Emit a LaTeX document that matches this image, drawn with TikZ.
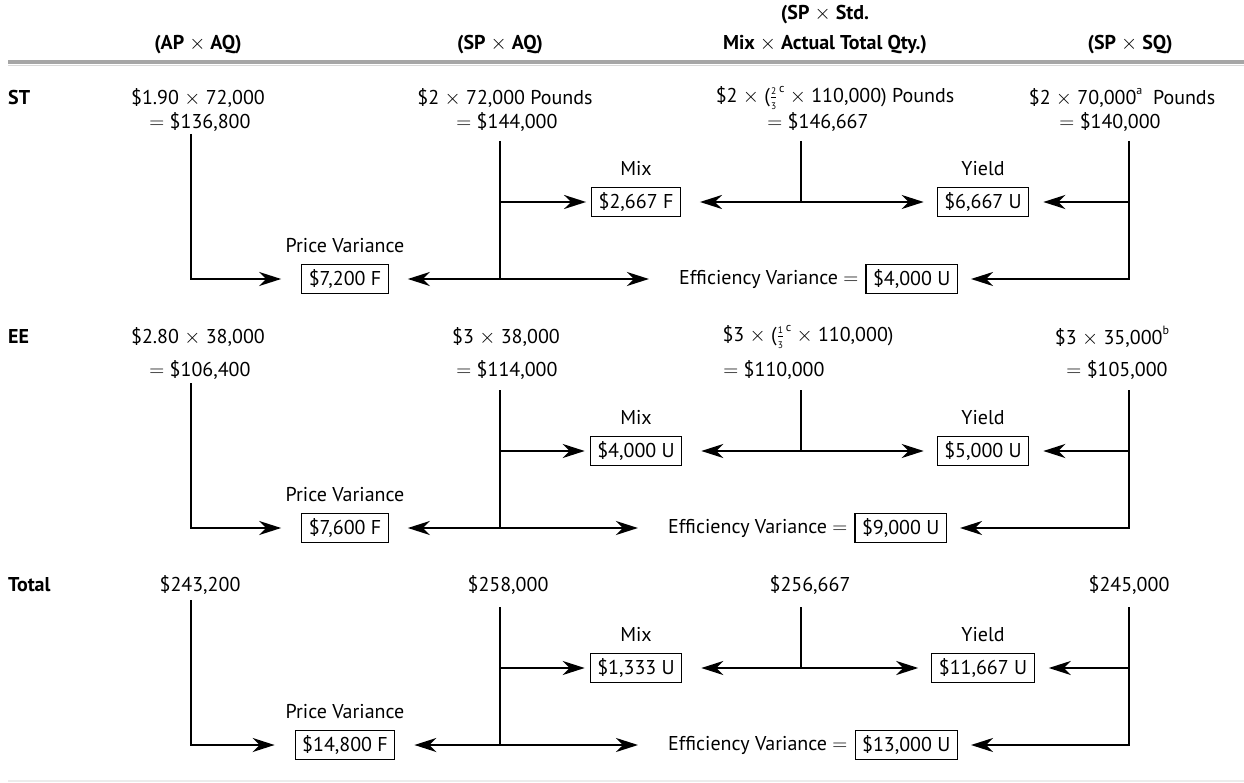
\documentclass[tikz,border=0pt]{standalone}
\usepackage{amsmath}
\usepackage{fontspec}
\setmainfont{PT Sans}
\usetikzlibrary{arrows.meta,positioning,calc}

\newcommand{\tms}{\ensuremath{\times}}
\newcommand{\eqs}{\ensuremath{=}}
\newcommand{\minifrac}[2]{$\genfrac{}{}{0.5pt}{1}{\mbox{\fontsize{9.5}{9.5}\selectfont#1}}{\mbox{\fontsize{9.5}{9.5}\selectfont#2}}$}
\newcommand{\fnote}[1]{\raisebox{1.0ex}{\fontsize{12}{12}\selectfont#1}}

\begin{document}
\begin{tikzpicture}[x=1pt, y=-1pt, font=\fontsize{20}{24}\selectfont,
    txt/.style={inner sep=0pt},
    head/.style={inner sep=0pt, font=\fontsize{20}{24}\selectfont\bfseries, align=center},
    vbox/.style={draw, line width=1.2pt, inner xsep=7pt, inner ysep=0pt, minimum height=29pt},
    wire/.style={line width=2.4pt},
    link/.style={wire, -{Stealth[length=22pt, width=14pt, inset=7pt]}}]

    \useasboundingbox (0,0) rectangle (1244,783);

    % column heads
    \node[head] (hap) at (198,45) {(AP \tms{} AQ)};
    \node[head] (hsa) at (500,45) {(SP \tms{} AQ)};
    \node[head] (hmx) at (825,30) {(SP \tms{} Std.\\[6pt]Mix \tms{} Actual Total Qty.)};
    \node[head] (hsq) at (1130,45) {(SP \tms{} SQ)};
    \draw[line width=3.5pt, gray!70] (8,62) -- (1244,62);
    \draw[line width=1.2pt, gray!30] (8,65.5) -- (1244,65.5);
    \draw[line width=2pt, gray!15] (8,781) -- (1244,781);

    % row labels
    \node[head, anchor=west] (lst) at (8,98) {ST};
    \node[head, anchor=west] (lee) at (8,337) {EE};
    \node[head, anchor=west] (ltot) at (8,585) {Total};

    % ST amounts
    \node[txt] (st1a) at (198,98) {\$1.90 \tms{} 72,000};
    \node[txt] (st1b) at (200,122) {\eqs{} \$136,800};
    \node[txt] (st2a) at (505,98) {\$2 \tms{} 72,000 Pounds};
    \node[txt] (st2b) at (507,122) {\eqs{} \$144,000};
    \node[txt] (st3a) at (835,98) {\$2 \tms{} (\minifrac{2}{3}\kern1.5pt\fnote{c} \tms{} 110,000) Pounds};
    \node[txt] (st3b) at (818,122) {\eqs{} \$146,667};
    \node[txt] (st4a) at (1122,98) {\$2 \tms{} 70,000\fnote{a}~ Pounds};
    \node[txt] (st4b) at (1110,122) {\eqs{} \$140,000};

    % EE amounts
    \node[txt] (ee1a) at (198,337) {\$2.80 \tms{} 38,000};
    \node[txt] (ee1b) at (200,370) {\eqs{} \$106,400};
    \node[txt] (ee2a) at (506,337) {\$3 \tms{} 38,000};
    \node[txt] (ee2b) at (507,370) {\eqs{} \$114,000};
    \node[txt] (ee3a) at (808,337) {\$3 \tms{} (\minifrac{1}{3}\kern1.5pt\fnote{c} \tms{} 110,000)};
    \node[txt] (ee3b) at (774,370) {\eqs{} \$110,000};
    \node[txt] (ee4a) at (1112,337) {\$3 \tms{} 35,000\fnote{b}};
    \node[txt] (ee4b) at (1117,370) {\eqs{} \$105,000};

    % totals
    \node[txt] (tot1) at (200,585) {\$243,200};
    \node[txt] (tot2) at (508,585) {\$258,000};
    \node[txt] (tot3) at (810,585) {\$256,667};
    \node[txt] (tot4) at (1129,585) {\$245,000};

    % variance trees, one per block
    \foreach \b/\m/\pv/\mx/\yl/\ef/\ex in {st/202/{7,200 F}/{2,667 F}/{6,667 U}/{4,000 U}/958,
                                           ee/451/{7,600 F}/{4,000 U}/{5,000 U}/{9,000 U}/947,
                                           tot/668/{14,800 F}/{1,333 U}/{11,667 U}/{13,000 U}/958} {
        \node[vbox] (\b-pv) at (345,\m+77) {\$\pv};
        \node[txt, above=11pt of \b-pv] (\b-pvl) {Price Variance};
        \node[vbox] (\b-mx) at (636,\m) {\$\mx};
        \node[txt, above=11pt of \b-mx] (\b-mxl) {Mix};
        \node[vbox] (\b-yl) at (983,\m) {\$\yl};
        \node[txt, above=11pt of \b-yl] (\b-yll) {Yield};
        \node[vbox, anchor=east] (\b-eb) at (\ex,\m+77) {\$\ef};
        \node[txt, left=7pt of \b-eb] (\b-ev) {Efficiency Variance \eqs};

        \coordinate (\b-c1) at (191,\m-68);
        \coordinate (\b-c2) at (500,\m-61);
        \coordinate (\b-c3) at (801,\m-61);
        \coordinate (\b-c4) at (1129,\m-61);

        \draw[link, shorten >=20pt] (\b-c1) |- (\b-pv.west);
        \draw[wire] (\b-c2) -- (\b-c2 |- \b-pv);
        \draw[link, shorten >=19pt] (\b-c2 |- \b-pv) -- (\b-pv.east);
        \draw[link, shorten >=30pt] (\b-c2 |- \b-pv) -- (\b-ev.west);
        \draw[link, shorten >=5pt] (\b-c2 |- \b-mx) -- (\b-mx.west);
        \draw[wire] (\b-c3) -- (\b-c3 |- \b-mx);
        \draw[link, shorten >=19pt] (\b-c3 |- \b-mx) -- (\b-mx.east);
        \draw[link, shorten >=13pt] (\b-c3 |- \b-mx) -- (\b-yl.west);
        \draw[link, shorten >=13pt] (\b-c4) |- (\b-eb.east);
        \draw[link, shorten >=14pt] (\b-c4 |- \b-yl) -- (\b-yl.east);
    }
\end{tikzpicture}
\end{document}
